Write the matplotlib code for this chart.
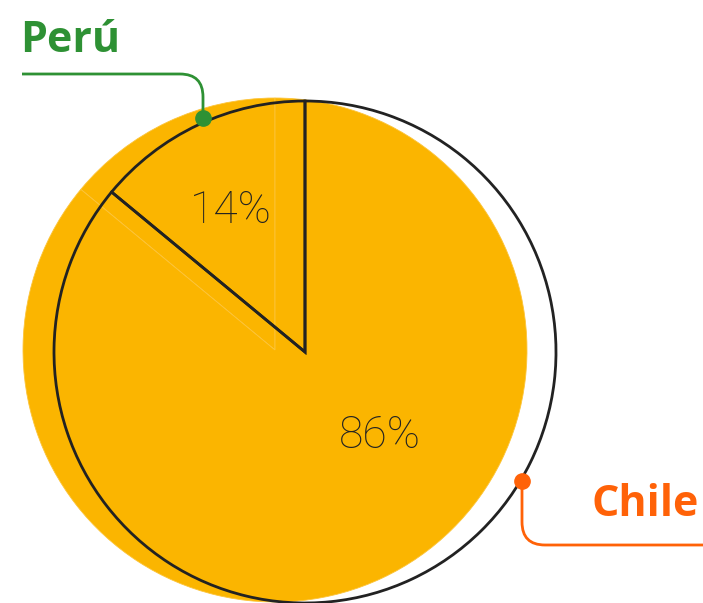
import matplotlib.pyplot as plt
from matplotlib.path import Path
from matplotlib.patches import PathPatch

# Share of the total by country
countries = ['Perú', 'Chile']
shares = [14, 86]
share_labels = ['14%', '86%']
colors = {'Perú': '#2e9134', 'Chile': '#ff6208'}
yellow = '#fbb500'

W, H = 703, 603
fig = plt.figure(figsize=(W / 100, H / 100), dpi=100)
ax = fig.add_axes([0, 0, 1, 1])
ax.set_xlim(0, W)
ax.set_ylim(0, H)
ax.set_aspect('equal')
ax.axis('off')


def py(y):
    # pixel row -> data y
    return H - y


# yellow filled pie, shifted left
ax.pie(shares, startangle=90, counterclock=True, center=(275, py(350)), radius=252,
       colors=[yellow, yellow],
       wedgeprops=dict(edgecolor='#fcc43a', linewidth=0.6))

# outlined pie on top
ax.pie(shares, startangle=90, counterclock=True, center=(305, py(352)), radius=251,
       colors=['none', 'none'],
       wedgeprops=dict(edgecolor='#222222', linewidth=2, fill=False))
ax.set_xlim(0, W)
ax.set_ylim(0, H)

# percentages
ax.text(231, py(211), share_labels[0], fontsize=32, family='Roboto', weight='light',
        color='#222222', ha='center', va='center')
ax.text(380, py(436), share_labels[1], fontsize=32, family='Roboto', weight='light',
        color='#222222', ha='center', va='center')

# leader lines
peru_path = Path([(22, py(74)), (180, py(74)), (203, py(74)), (203, py(97)), (203, py(118))],
                 [Path.MOVETO, Path.LINETO, Path.CURVE3, Path.CURVE3, Path.LINETO])
ax.add_patch(PathPatch(peru_path, fill=False, edgecolor=colors['Perú'], linewidth=2))
ax.plot(203, py(118), 'o', color=colors['Perú'], markersize=11)

chile_path = Path([(522, py(481)), (522, py(522)), (522, py(545)), (545, py(545)), (703, py(545))],
                  [Path.MOVETO, Path.LINETO, Path.CURVE3, Path.CURVE3, Path.LINETO])
ax.add_patch(PathPatch(chile_path, fill=False, edgecolor=colors['Chile'], linewidth=2))
ax.plot(522, py(481), 'o', color=colors['Chile'], markersize=11)

# country names
ax.text(20, py(40), countries[0], fontsize=31, family='Open Sans', weight='bold',
        color=colors['Perú'], ha='left', va='center')
ax.text(699, py(505), countries[1], fontsize=31, family='Open Sans', weight='bold',
        color=colors['Chile'], ha='right', va='center')

fig.savefig('out.png', dpi=100)
